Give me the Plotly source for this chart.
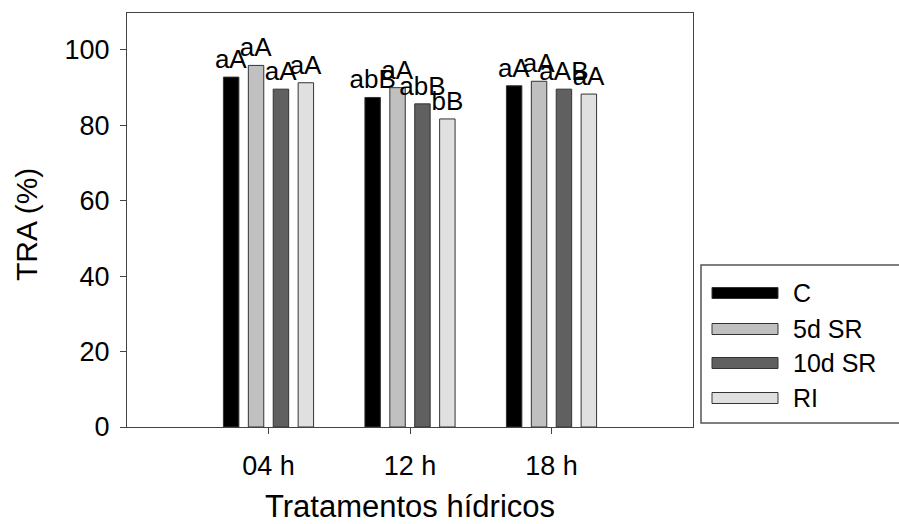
import plotly.graph_objects as go

# ---- data ----
categories = ["04 h", "12 h", "18 h"]
series_names = ["C", "5d SR", "10d SR", "RI"]
values_C = [92.8, 87.4, 90.5]
values_5d = [95.9, 90.0, 91.7]
values_10d = [89.6, 85.7, 89.6]
values_RI = [91.3, 81.7, 88.3]
labels_C = ["aA", "abB", "aA"]
labels_5d = ["aA", "aA", "aA"]
labels_10d = ["aA", "abB", "aAB"]
labels_RI = ["aA", "bB", "aA"]
y_ticks = [0, 20, 40, 60, 80, 100]
x_title = "Tratamentos hídricos"
y_title = "TRA (%)"

colors = ["#000000", "#c0c0c0", "#606060", "#e0e0e0"]
all_values = [values_C, values_5d, values_10d, values_RI]
all_labels = [labels_C, labels_5d, labels_10d, labels_RI]

FONT = "Liberation Sans, Arial, sans-serif"
W, H = 899, 524
L, R, T, B = 127, 206, 13, 97
PW, PH = W - L - R, H - T - B

x_pos = [i + 1 for i in range(len(categories))]

fig = go.Figure()
for name, col, vals, labs in zip(series_names, colors, all_values, all_labels):
    fig.add_trace(go.Bar(
        x=x_pos, y=vals, name=name, text=labs,
        textposition="outside", constraintext="none", cliponaxis=False,
        textfont=dict(family=FONT, size=26, color="#000000"),
        marker=dict(color=col, line=dict(color="#333333", width=1)),
        showlegend=False,
    ))

def px_x(p):
    return (p - L) / PW

def px_y(p):
    return (H - B - p) / PH

shapes = []
annotations = []
# legend box
shapes.append(dict(type="rect", xref="paper", yref="paper",
                   x0=px_x(701), x1=px_x(905), y0=px_y(265), y1=px_y(423),
                   line=dict(color="#555555", width=1.5), fillcolor="white", layer="above"))
row_y = [293, 329, 363, 398]
for name, col, ry in zip(series_names, colors, row_y):
    shapes.append(dict(type="rect", xref="paper", yref="paper",
                       x0=px_x(712), x1=px_x(778), y0=px_y(ry - 5.5), y1=px_y(ry + 5.5),
                       line=dict(color="#333333", width=1), fillcolor=col, layer="above"))
    annotations.append(dict(xref="paper", yref="paper", x=px_x(791), y=px_y(ry),
                            xanchor="left", yanchor="middle", showarrow=False,
                            text=name, font=dict(family=FONT, size=25, color="#000000")))

# axis titles
annotations.append(dict(xref="paper", yref="paper", x=0.5, y=px_y(506),
                        xanchor="center", yanchor="middle", showarrow=False,
                        text=x_title, font=dict(family=FONT, size=31, color="#000000")))
annotations.append(dict(xref="paper", yref="paper", x=px_x(26), y=px_y(225),
                        xanchor="center", yanchor="middle", showarrow=False, textangle=-90,
                        text=y_title, font=dict(family=FONT, size=30, color="#000000")))

fig.update_layout(
    width=W, height=H,
    margin=dict(l=L, r=R, t=T, b=B),
    paper_bgcolor="white", plot_bgcolor="white",
    barmode="group", bargap=0.296, bargroupgap=0.38,
    font=dict(family=FONT, color="#000000"),
    shapes=shapes, annotations=annotations,
)
fig.update_xaxes(
    range=[0, 4], tickvals=x_pos, ticktext=categories,
    showline=True, linecolor="#444444", linewidth=1, mirror=True,
    ticks="outside", ticklen=6, tickcolor="#444444",
    showgrid=False, zeroline=False, automargin=False,
    tickfont=dict(family=FONT, size=27),
    ticklabelstandoff=9,
)
fig.update_yaxes(
    range=[0, 109.8], tickvals=y_ticks,
    showline=True, linecolor="#444444", linewidth=1, mirror=True,
    ticks="outside", ticklen=6, tickcolor="#444444",
    showgrid=False, zeroline=False, automargin=False,
    tickfont=dict(family=FONT, size=27),
    ticklabelstandoff=5,
)

fig.write_html("out.html", config={"displayModeBar": False},
               post_script="document.body.style.margin='0';document.body.style.padding='0';")
